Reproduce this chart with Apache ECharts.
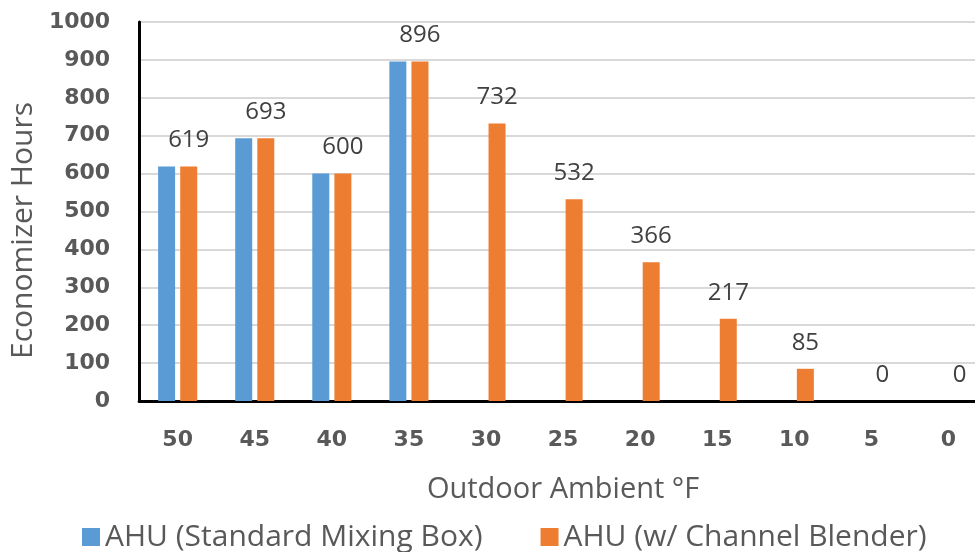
<!DOCTYPE html>
<html>
<head>
<meta charset="utf-8">
<script src="https://cdn.jsdelivr.net/npm/echarts@6/dist/echarts.min.js"></script>
<style>html,body{margin:0;padding:0;background:#fff;overflow:hidden;width:975px;height:552px;}#c{width:995px;height:552px;}</style>
</head>
<body>
<div id="c"></div>
<script>
const categories = ['50','45','40','35','30','25','20','15','10','5','0'];
const standardMixing = [619, 693, 600, 896, null, null, null, null, null, null, null];
const channelBlender = [619, 693, 600, 896, 732, 532, 366, 217, 85, 0, 0];
const yTicks = {min: 0, max: 1000, interval: 100};
const seriesNames = ['AHU (Standard Mixing Box)', 'AHU (w/ Channel Blender)'];

const FONT = 'Open Sans';
const BOLD = 'DejaVu Sans';
const chart = echarts.init(document.getElementById('c'));
chart.setOption({
  animation: false,
  backgroundColor: '#ffffff',
  grid: {left: 138, width: 849, top: 22, bottom: 151, containLabel: false},
  legend: {
    left: 82, top: 522, padding: 0,
    itemWidth: 18, itemHeight: 18, itemGap: 58,
    icon: 'rect',
    textStyle: {fontFamily: FONT, fontSize: 30, color: '#595959'},
    data: seriesNames
  },
  xAxis: {
    type: 'category',
    data: categories,
    name: 'Outdoor Ambient °F',
    nameLocation: 'middle',
    nameGap: 74,
    nameTextStyle: {fontFamily: FONT, fontSize: 29, color: '#595959'},
    axisLine: {lineStyle: {color: '#000', width: 3}},
    axisTick: {show: false},
    axisLabel: {fontFamily: BOLD, fontSize: 22, fontWeight: 'bold', color: '#595959', margin: 28}
  },
  yAxis: {
    type: 'value',
    min: yTicks.min, max: yTicks.max, interval: yTicks.interval,
    name: 'Economizer Hours',
    nameLocation: 'middle',
    nameGap: 100,
    nameTextStyle: {fontFamily: FONT, fontSize: 30, color: '#595959', padding: [0, 38, 0, 0]},
    axisLine: {show: true, lineStyle: {color: '#000', width: 3}},
    axisTick: {show: false},
    axisLabel: {fontFamily: BOLD, fontSize: 22, fontWeight: 'bold', color: '#595959', margin: 29,
      formatter: v => String(v)},
    splitLine: {lineStyle: {color: '#d9d9d9', width: 2}}
  },
  series: [
    {
      name: seriesNames[0], type: 'bar', data: standardMixing,
      barWidth: 17, barGap: '30%',
      itemStyle: {color: '#5B9BD5'}
    },
    {
      name: seriesNames[1], type: 'bar', data: channelBlender,
      barWidth: 17,
      itemStyle: {color: '#ED7D31'},
      label: {show: true, position: 'top', distance: 14, fontFamily: FONT, fontSize: 24, color: '#404040'}
    }
  ]
});
</script>
</body>
</html>
